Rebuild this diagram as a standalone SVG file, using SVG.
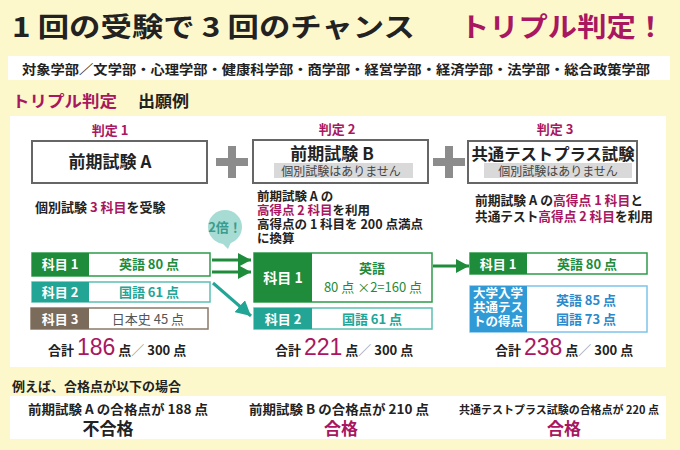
<svg xmlns="http://www.w3.org/2000/svg" width="680" height="450" viewBox="0 0 680 450">
<defs>
<style>
text{font-family:"Noto Sans CJK JP","Noto Sans",sans-serif;font-weight:bold;fill:#222}
.m{fill:#a8175f}
.w{fill:#fff}
.num{font-family:"Liberation Sans","Noto Sans CJK JP",sans-serif;font-weight:normal}
.sub{font-weight:normal;fill:#444;font-size:12px}
.box{fill:#fff;stroke:#666;stroke-width:2}
.bar{fill:#d9d9d9}
.plus{fill:#8c8c8c}
.c{text-anchor:middle}
</style>
<marker id="ag" markerUnits="userSpaceOnUse" markerWidth="14" markerHeight="14" refX="13" refY="7" orient="auto"><path d="M0,0 L13,7 L0,14 z" fill="#1e8c3a"/></marker>
<marker id="at" markerUnits="userSpaceOnUse" markerWidth="16" markerHeight="16" refX="15" refY="8" orient="auto"><path d="M0,0 L15,8 L0,16 z" fill="#23a596"/></marker>
</defs>
<rect width="680" height="450" fill="#fdf8cc"/>

<g id="title">
<text x="12" y="37" font-size="27" textLength="403" lengthAdjust="spacingAndGlyphs">1 回の受験で 3 回のチャンス</text>
<text x="460" y="37" font-size="27" class="m" textLength="205" lengthAdjust="spacingAndGlyphs">トリプル判定！</text>
</g>
<g id="faculties">
<rect x="8" y="56" width="662" height="24" fill="#fff"/>
<text x="22" y="74" font-size="13" textLength="628" lengthAdjust="spacingAndGlyphs">対象学部／文学部・心理学部・健康科学部・商学部・経営学部・経済学部・法学部・総合政策学部</text>
</g>
<g id="heading">
<text x="12" y="107" font-size="16" class="m" textLength="105" lengthAdjust="spacingAndGlyphs">トリプル判定</text>
<text x="138" y="107" font-size="16" textLength="51" lengthAdjust="spacingAndGlyphs">出願例</text>
</g>

<rect x="10" y="116" width="656" height="251" fill="#fff"/>

<g id="judge1">
<text x="110" y="135" font-size="13" class="m c">判定 1</text>
<rect class="box" x="32" y="141" width="175" height="42"/>
<text x="110" y="168" font-size="17" class="c">前期試験 A</text>
<text x="35" y="212" font-size="13">個別試験 <tspan class="m">3 科目</tspan>を受験</text>
</g>
<g id="plus1"><rect class="plus" x="216" y="158" width="32" height="8"/><rect class="plus" x="228" y="146" width="8" height="32"/></g>
<g id="judge2">
<text x="337" y="134" font-size="13" class="m c">判定 2</text>
<rect class="box" x="253" y="140" width="175" height="43"/>
<text x="332" y="160" font-size="17" class="c">前期試験 B</text>
<rect class="bar" x="274" y="163" width="139" height="15"/>
<text x="341" y="176" class="sub c">個別試験はありません</text>
<text x="257" y="201" font-size="12.5">前期試験 A の</text>
<text x="257" y="215" font-size="12.5"><tspan class="m">高得点 2 科目</tspan>を利用</text>
<text x="257" y="229" font-size="12.5" textLength="166" lengthAdjust="spacingAndGlyphs">高得点の 1 科目を 200 点満点</text>
<text x="257" y="243" font-size="12.5">に換算</text>
</g>
<g id="plus2"><rect class="plus" x="433" y="158" width="32" height="8"/><rect class="plus" x="445" y="146" width="8" height="32"/></g>
<g id="judge3">
<text x="555" y="134" font-size="13" class="m c">判定 3</text>
<rect class="box" x="468" y="141" width="169" height="42"/>
<text x="553" y="160" font-size="16" class="c" textLength="163" lengthAdjust="spacingAndGlyphs">共通テストプラス試験</text>
<rect class="bar" x="484" y="163" width="148" height="15"/>
<text x="558" y="176" class="sub c">個別試験はありません</text>
<text x="475" y="205" font-size="13" textLength="168" lengthAdjust="spacingAndGlyphs">前期試験 A の<tspan class="m">高得点 1 科目</tspan>と</text>
<text x="475" y="221" font-size="13" textLength="178" lengthAdjust="spacingAndGlyphs">共通テスト<tspan class="m">高得点 2 科目</tspan>を利用</text>
</g>

<g id="bubble">
<circle cx="225" cy="227" r="17" fill="#a6dcd4"/>
<path d="M219,240 L232,240 L228,249 z" fill="#a6dcd4"/>
<text x="225" y="232" font-size="13" class="c" style="fill:#3a9c8f">2倍！</text>
</g>

<g id="left-scores">
<rect x="32" y="253" width="178" height="23" fill="#fff" stroke="#2e9a4a" stroke-width="1.5"/>
<rect x="32" y="253" width="57" height="23" fill="#1e8c3a"/>
<text x="60" y="269" font-size="13" class="w c">科目 1</text>
<text x="149" y="269" font-size="13" class="c" style="fill:#1e8c3a">英語 80 点</text>
<rect x="32" y="282" width="178" height="20" fill="#fff" stroke="#5cbfb2" stroke-width="1.5"/>
<rect x="32" y="282" width="57" height="20" fill="#23a596"/>
<text x="60" y="297" font-size="13" class="w c">科目 2</text>
<text x="149" y="297" font-size="13" class="c" style="fill:#23a596">国語 61 点</text>
<rect x="31" y="308" width="177" height="21" fill="#fff" stroke="#8a7a68" stroke-width="1.5"/>
<rect x="31" y="308" width="58" height="21" fill="#7b6b5a"/>
<text x="60" y="324" font-size="13" class="w c">科目 3</text>
<text x="148" y="324" font-size="13" class="c" style="fill:#555;font-weight:normal">日本史 45 点</text>
<text x="48" y="355" font-size="13">合計 <tspan class="m num" font-size="23">186</tspan> 点<tspan style="fill:#999;font-weight:normal">／</tspan> 300 点</text>
</g>

<g id="mid-scores">
<rect x="254" y="253" width="178" height="49" fill="#fff" stroke="#2e9a4a" stroke-width="1.5"/>
<rect x="254" y="253" width="58" height="49" fill="#1e8c3a"/>
<text x="283" y="283" font-size="14" class="w c">科目 1</text>
<text x="372" y="273" font-size="13" class="c" style="fill:#1e8c3a">英語</text>
<text x="373" y="292" font-size="13" class="c" style="fill:#1e8c3a;font-weight:normal">80 点 ×2=160 点</text>
<rect x="254" y="308" width="178" height="21" fill="#fff" stroke="#5cbfb2" stroke-width="1.5"/>
<rect x="254" y="308" width="58" height="21" fill="#23a596"/>
<text x="283" y="324" font-size="13" class="w c">科目 2</text>
<text x="372" y="324" font-size="13" class="c" style="fill:#23a596">国語 61 点</text>
<text x="275" y="355" font-size="13">合計 <tspan class="m num" font-size="23">221</tspan> 点<tspan style="fill:#999;font-weight:normal">／</tspan> 300 点</text>
</g>

<g id="right-scores">
<rect x="470" y="253" width="177" height="21" fill="#fff" stroke="#2e9a4a" stroke-width="1.5"/>
<rect x="470" y="253" width="57" height="21" fill="#1e8c3a"/>
<text x="498" y="269" font-size="13" class="w c">科目 1</text>
<text x="587" y="269" font-size="13" class="c" style="fill:#1e8c3a">英語 80 点</text>
<rect x="470" y="286" width="177" height="46" fill="#fff" stroke="#7cc4ea" stroke-width="1.5"/>
<rect x="470" y="286" width="57" height="46" fill="#2f9ad6"/>
<text x="498" y="298" font-size="12.5" class="w c">大学入学</text>
<text x="498" y="312" font-size="12.5" class="w c">共通テス</text>
<text x="498" y="326" font-size="12.5" class="w c">トの得点</text>
<text x="586" y="305" font-size="13" class="c" style="fill:#2a8acb">英語 85 点</text>
<text x="586" y="324" font-size="13" class="c" style="fill:#2a8acb">国語 73 点</text>
<text x="495" y="355" font-size="13">合計 <tspan class="m num" font-size="23">238</tspan> 点<tspan style="fill:#999;font-weight:normal">／</tspan> 300 点</text>
</g>

<g id="connectors" fill="none">
<line x1="212" y1="260" x2="251" y2="260" stroke="#1e8c3a" stroke-width="3" marker-end="url(#ag)"/>
<line x1="212" y1="272" x2="251" y2="272" stroke="#1e8c3a" stroke-width="3" marker-end="url(#ag)"/>
<line x1="213" y1="283" x2="251" y2="316" stroke="#23a596" stroke-width="3" marker-end="url(#at)"/>
<line x1="433" y1="266" x2="469" y2="266" stroke="#1e8c3a" stroke-width="3" marker-end="url(#ag)"/>
</g>

<g id="results">
<text x="12" y="391" font-size="13">例えば、合格点が以下の場合</text>
<rect x="10" y="396" width="656" height="43" fill="#fff"/>
<text x="118" y="414" font-size="13" class="c" textLength="180" lengthAdjust="spacingAndGlyphs">前期試験 A の合格点が 188 点</text>
<text x="108" y="435" font-size="17" class="c">不合格</text>
<text x="339" y="414" font-size="13" class="c" textLength="180" lengthAdjust="spacingAndGlyphs">前期試験 B の合格点が 210 点</text>
<text x="341" y="435" font-size="17" class="m c">合格</text>
<text x="559" y="414" font-size="11" class="c" textLength="200" lengthAdjust="spacingAndGlyphs">共通テストプラス試験の合格点が 220 点</text>
<text x="564" y="435" font-size="17" class="m c">合格</text>
</g>
</svg>
